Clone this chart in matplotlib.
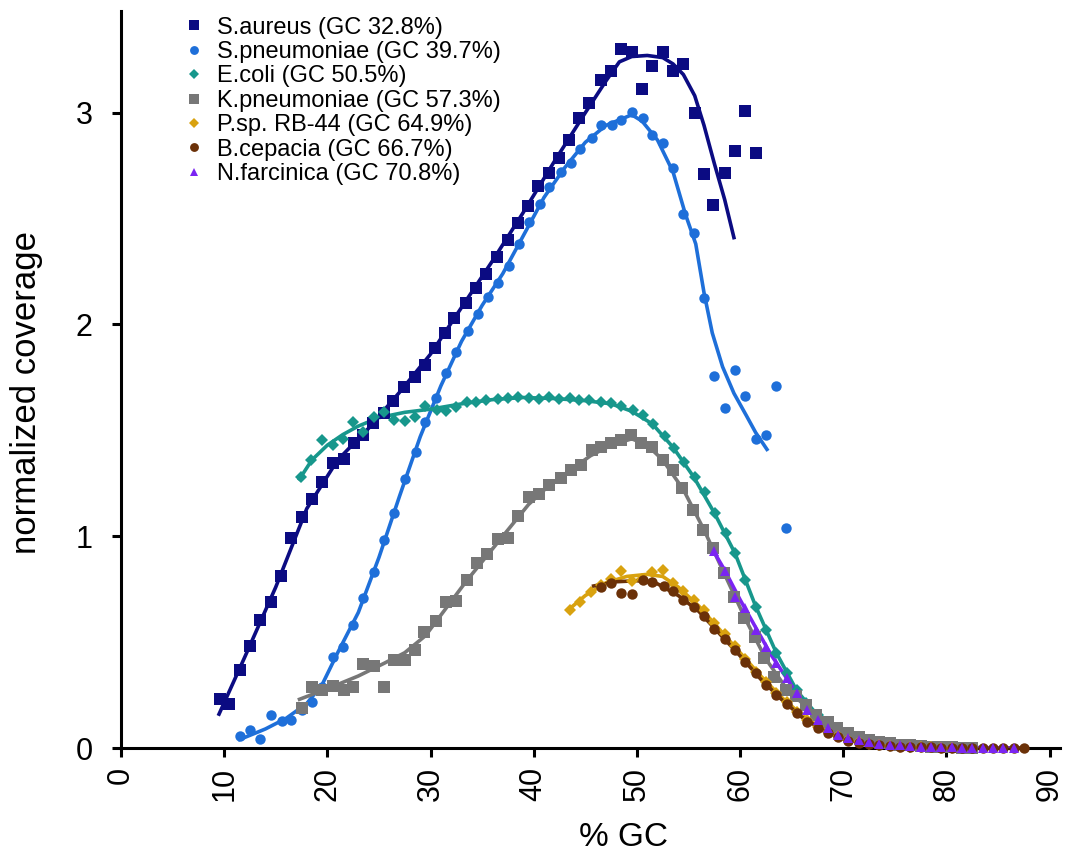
import matplotlib
matplotlib.use("Agg")
import matplotlib.pyplot as plt

plt.rcParams["font.family"] = ["Liberation Sans", "DejaVu Sans"]

# ---- data ----
sa_x = [9.6, 10.5, 11.5, 12.5, 13.5, 14.5, 15.5, 16.5, 17.5, 18.5, 19.5, 20.5, 21.6, 22.6, 23.5,
        24.4, 25.5, 26.4, 27.4, 28.5, 29.5, 30.4, 31.4, 32.3, 33.4, 34.4, 35.4, 36.4, 37.5, 38.5,
        39.4, 40.4, 41.5, 42.4, 43.4, 44.4, 45.4, 46.5, 47.5, 48.5, 49.5, 50.5, 51.5, 52.5, 53.5,
        54.5, 55.6, 56.5, 57.4, 58.5, 59.5, 60.5, 61.5]
sa_y = [0.23, 0.21, 0.37, 0.48, 0.605, 0.69, 0.81, 0.99, 1.09, 1.175, 1.258, 1.345, 1.365, 1.44, 1.48,
        1.535, 1.58, 1.64, 1.705, 1.75, 1.81, 1.89, 1.96, 2.03, 2.10, 2.17, 2.24, 2.32, 2.40, 2.48,
        2.56, 2.655, 2.715, 2.785, 2.87, 2.975, 3.045, 3.155, 3.195, 3.30, 3.285, 3.11, 3.22, 3.285, 3.195,
        3.23, 3.00, 2.71, 2.565, 2.715, 2.82, 3.01, 2.81]
sa_fit_x = [9.5, 12, 15, 18, 21, 24, 27, 30, 33, 36, 39, 42, 45, 47, 48.3, 49.5, 51, 52.5, 53.5,
            54.5, 55.6, 56.5, 57.5, 58.5, 59.4]
sa_fit_y = [0.16, 0.43, 0.76, 1.13, 1.36, 1.51, 1.68, 1.86, 2.08, 2.30, 2.53, 2.77, 3.00, 3.15, 3.24,
            3.265, 3.27, 3.26, 3.23, 3.18, 3.08, 2.94, 2.76, 2.59, 2.41]

sp_x = [11.5, 12.55, 13.5, 14.5, 15.6, 16.5, 17.5, 18.5, 19.5, 20.55, 21.5, 22.5, 23.5, 24.5, 25.5,
        26.5, 27.5, 28.6, 29.5, 30.5, 31.5, 32.5, 33.6, 34.6, 35.6, 36.5, 37.6, 38.6, 39.5, 40.6,
        41.5, 42.6, 43.6, 44.5, 45.6, 46.5, 47.6, 48.5, 49.5, 50.6, 51.5, 52.5, 53.5, 54.5, 55.5,
        56.5, 57.5, 58.5, 59.5, 60.5, 61.5, 62.5, 63.5, 64.4]
sp_y = [0.057, 0.085, 0.041, 0.156, 0.128, 0.132, 0.18, 0.219, 0.29, 0.43, 0.475, 0.58, 0.71, 0.83, 0.98,
        1.11, 1.27, 1.40, 1.54, 1.655, 1.77, 1.87, 1.97, 2.05, 2.13, 2.195, 2.275, 2.38, 2.485, 2.57,
        2.65, 2.72, 2.76, 2.83, 2.88, 2.94, 2.943, 2.966, 3.005, 2.975, 2.895, 2.856, 2.74, 2.52, 2.43,
        2.125, 1.757, 1.605, 1.785, 1.66, 1.458, 1.48, 1.71, 1.04]
sp_fit_x = [11.5, 14, 16, 18, 19.5, 21, 23, 25, 27, 29, 31, 33, 35, 37, 39, 41, 43, 45, 47, 48.5,
            49.5, 50.5, 52, 53.5, 54.7, 55.7, 56.5, 57.3, 58.3, 59.4, 60.6, 61.5, 62.6]
sp_fit_y = [0.04, 0.09, 0.14, 0.21, 0.30, 0.45, 0.64, 0.90, 1.19, 1.47, 1.71, 1.92, 2.09, 2.24, 2.42,
            2.60, 2.74, 2.86, 2.94, 2.97, 2.99, 2.96, 2.87, 2.72, 2.52, 2.38, 2.15, 1.96, 1.80, 1.675,
            1.57, 1.49, 1.41]

ec_x = [17.4, 18.4, 19.5, 20.5, 21.5, 22.5, 23.5, 24.5, 25.5, 26.5, 27.5, 28.5, 29.5, 30.6, 31.5,
        32.5, 33.5, 34.4, 35.4, 36.5, 37.5, 38.5, 39.5, 40.5, 41.5, 42.4, 43.5, 44.4, 45.4, 46.5,
        47.5, 48.5, 49.6, 50.6, 51.6, 52.7, 53.6, 54.6, 55.6, 56.6, 57.6, 58.6, 59.5, 60.5, 61.5,
        62.5, 63.5, 64.5, 65.5, 66.4, 67.5, 68.5, 69.5, 70.5, 71.5, 72.5, 73.5, 74.5, 75.5, 76.5]
ec_y = [1.28, 1.36, 1.455, 1.43, 1.46, 1.54, 1.49, 1.565, 1.585, 1.55, 1.545, 1.565, 1.615, 1.595, 1.59,
        1.61, 1.635, 1.635, 1.645, 1.647, 1.652, 1.657, 1.652, 1.647, 1.657, 1.647, 1.652, 1.645, 1.645, 1.635,
        1.628, 1.615, 1.597, 1.573, 1.53, 1.474, 1.416, 1.352, 1.28, 1.21, 1.108, 1.014, 0.92, 0.794, 0.667,
        0.557, 0.447, 0.353, 0.274, 0.211, 0.156, 0.109, 0.077, 0.055, 0.04, 0.028, 0.02, 0.014, 0.01, 0.007]
ec_fit_x = [17.3, 18.5, 20, 21.5, 23, 25, 27.5, 30, 33, 36, 39, 42, 45, 47.5, 49.5, 51.5, 53.5, 55.5,
            57.5, 59.5, 61.5, 63.5, 65.5, 67.5, 69.5, 71.5, 74, 77]
ec_fit_y = [1.27, 1.36, 1.43, 1.48, 1.52, 1.56, 1.585, 1.60, 1.625, 1.645, 1.655, 1.65, 1.64, 1.625, 1.59,
            1.53, 1.42, 1.28, 1.11, 0.92, 0.67, 0.45, 0.27, 0.155, 0.08, 0.04, 0.015, 0.005]

kp_x = [17.5, 18.55, 19.5, 20.55, 21.6, 22.5, 23.5, 24.5, 25.5, 26.5, 27.5, 28.5, 29.4, 30.5, 31.5,
        32.5, 33.5, 34.5, 35.5, 36.5, 37.5, 38.5, 39.5, 40.5, 41.5, 42.6, 43.6, 44.6, 45.6, 46.5,
        47.5, 48.5, 49.4, 50.4, 51.5, 52.5, 53.5, 54.4, 55.4, 56.4, 57.4, 58.4, 59.4, 60.4, 61.4,
        62.3, 63.3, 64.4, 65.4, 66.4, 67.4, 68.5, 69.4, 70.5, 71.5, 72.5, 73.5, 74.5, 75.5, 76.5,
        77.5, 78.5, 79.5, 80.5, 81.5, 82.5]
kp_y = [0.19, 0.287, 0.274, 0.293, 0.274, 0.29, 0.397, 0.387, 0.29, 0.416, 0.416, 0.463, 0.55, 0.60, 0.69,
        0.696, 0.794, 0.872, 0.916, 0.986, 0.99, 1.096, 1.187, 1.20, 1.242, 1.274, 1.313, 1.337, 1.408, 1.423,
        1.439, 1.455, 1.478, 1.442, 1.423, 1.36, 1.313, 1.227, 1.124, 1.03, 0.943, 0.825, 0.715, 0.612, 0.526,
        0.424, 0.337, 0.274, 0.246, 0.203, 0.156, 0.124, 0.093, 0.069, 0.052, 0.04, 0.03, 0.022, 0.016, 0.012,
        0.009, 0.006, 0.004, 0.003, 0.002, 0.001]
kp_fit_x = [17.3, 20, 23, 25.5, 27.5, 29.5, 31.5, 33.5, 35.5, 37.5, 39.5, 41.5, 43.5, 45.5, 47.5, 49.5,
            51, 52.5, 54.5, 56.5, 58.5, 60.5, 62.5, 64.5, 66.5, 68.5, 70.5, 73, 76, 80, 84]
kp_fit_y = [0.23, 0.28, 0.34, 0.40, 0.45, 0.53, 0.66, 0.79, 0.91, 1.03, 1.15, 1.24, 1.31, 1.38, 1.43, 1.46,
            1.43, 1.36, 1.22, 1.03, 0.82, 0.61, 0.42, 0.28, 0.19, 0.12, 0.07, 0.035, 0.015, 0.005, 0.0]

ps_x = [43.5, 44.5, 45.5, 46.5, 47.5, 48.5, 49.5, 50.5, 51.5, 52.5, 53.5, 54.5, 55.5, 56.5, 57.5,
        58.5, 59.5, 60.5, 61.5, 62.5, 63.5, 64.5, 65.5, 66.5, 67.5, 68.5, 69.5, 70.5, 71.5, 72.5,
        73.5, 74.5, 75.5, 76.5, 77.5, 78.5, 79.5, 80.5]
ps_y = [0.652, 0.69, 0.735, 0.77, 0.80, 0.838, 0.79, 0.80, 0.833, 0.84, 0.78, 0.74, 0.70, 0.65, 0.59,
        0.54, 0.48, 0.42, 0.36, 0.31, 0.26, 0.215, 0.17, 0.13, 0.10, 0.075, 0.055, 0.04, 0.03, 0.02,
        0.015, 0.01, 0.007, 0.005, 0.004, 0.003, 0.002, 0.001]
ps_fit_x = [43.3, 45, 47, 49, 51, 52.5, 54, 56, 58, 60, 62, 64, 66, 68, 70, 72, 75, 80]
ps_fit_y = [0.65, 0.72, 0.78, 0.81, 0.82, 0.81, 0.76, 0.67, 0.56, 0.45, 0.34, 0.24, 0.155, 0.09, 0.05,
            0.025, 0.01, 0.0]

bc_x = [46.5, 47.5, 48.5, 49.5, 50.6, 51.5, 52.6, 53.5, 54.5, 55.5, 56.5, 57.5, 58.5, 59.5, 60.5,
        61.5, 62.5, 63.5, 64.5, 65.5, 66.5, 67.5, 68.5, 69.5, 70.5, 71.5, 72.5, 73.5, 74.5, 75.5,
        76.5, 77.5, 78.5, 79.5, 80.5, 81.5, 82.5, 83.5, 84.5, 85.5, 86.5, 87.5]
bc_y = [0.76, 0.781, 0.734, 0.727, 0.794, 0.786, 0.765, 0.743, 0.699, 0.667, 0.624, 0.561, 0.513, 0.463, 0.408,
        0.353, 0.298, 0.25, 0.208, 0.164, 0.124, 0.093, 0.069, 0.05, 0.034, 0.025, 0.018, 0.013, 0.009, 0.007,
        0.005, 0.004, 0.003, 0.002, 0.002, 0.001, 0.001, 0.001, 0.001, 0.0, 0.0, 0.0]
bc_fit_x = [45.8, 48, 50, 52, 54, 56, 58, 60, 62, 64, 66, 68, 70, 72, 75, 80, 87.5]
bc_fit_y = [0.765, 0.785, 0.79, 0.775, 0.72, 0.645, 0.54, 0.435, 0.325, 0.23, 0.145, 0.085, 0.045, 0.022,
            0.008, 0.002, 0.0]

nf_x = [57.5, 58.5, 59.5, 60.5, 61.5, 62.5, 63.5, 64.5, 65.5, 66.5, 67.5, 68.5, 69.5, 70.5, 71.5,
        72.5, 73.5, 74.5, 75.5, 76.5, 77.5, 78.5, 79.5, 80.5, 81.5, 82.5, 83.5, 84.5, 85.5, 86.5]
nf_y = [0.93, 0.835, 0.715, 0.66, 0.557, 0.479, 0.40, 0.33, 0.258, 0.18, 0.132, 0.093, 0.061, 0.046, 0.036,
        0.028, 0.021, 0.016, 0.012, 0.009, 0.007, 0.005, 0.004, 0.003, 0.002, 0.002, 0.001, 0.001, 0.001, 0.0]
nf_fit_x = [57.3, 58.5, 60, 61.5, 63, 64.5, 66, 67.5, 69, 70.5, 73, 76, 80, 86.5]
nf_fit_y = [0.94, 0.84, 0.70, 0.57, 0.44, 0.33, 0.22, 0.14, 0.08, 0.05, 0.025, 0.01, 0.003, 0.0]

SERIES = [
    ("S.aureus (GC 32.8%)", "#0b0b82", "s", 8.0, sa_x, sa_y, sa_fit_x, sa_fit_y),
    ("S.pneumoniae (GC 39.7%)", "#1e6fd9", "o", 7.5, sp_x, sp_y, sp_fit_x, sp_fit_y),
    ("E.coli (GC 50.5%)", "#17978c", "D", 6.0, ec_x, ec_y, ec_fit_x, ec_fit_y),
    ("K.pneumoniae (GC 57.3%)", "#777777", "s", 8.0, kp_x, kp_y, kp_fit_x, kp_fit_y),
    ("P.sp. RB-44 (GC 64.9%)", "#d9a20f", "D", 6.0, ps_x, ps_y, ps_fit_x, ps_fit_y),
    ("B.cepacia (GC 66.7%)", "#6b3108", "o", 7.5, bc_x, bc_y, bc_fit_x, bc_fit_y),
    ("N.farcinica (GC 70.8%)", "#7a24f2", "^", 7.5, nf_x, nf_y, nf_fit_x, nf_fit_y),
]

fig = plt.figure(figsize=(10.82, 8.63), dpi=100)
ax = fig.add_axes([121 / 1082, 115 / 863, 939 / 1082, 737 / 863])

for label, color, marker, ms, xs, ys, fx, fy in SERIES:
    ax.plot(fx, fy, color=color, linewidth=2.6, zorder=3)
    ax.plot(xs, ys, linestyle="none", marker=marker, markersize=ms, color=color,
            markeredgewidth=0, label=label, zorder=4, clip_on=False)

ax.set_xlim(0, 91)
ax.set_ylim(0, 3.48)
ax.set_xticks(range(0, 91, 10))
ax.set_yticks([0, 1, 2, 3])
for side in ["top", "right"]:
    ax.spines[side].set_visible(False)
for side in ["left", "bottom"]:
    ax.spines[side].set_linewidth(2.2)
ax.tick_params(direction="out", length=6.5, width=2.2, labelsize=22, colors="black")
ax.tick_params(axis="x", labelrotation=90, pad=7)
ax.tick_params(axis="y", pad=14)

ax.set_ylabel("normalized coverage", fontsize=25)
ax.yaxis.set_label_coords(-0.083, 0.482)
ax.set_xlabel("% GC", fontsize=24)
ax.xaxis.set_label_coords(0.535, -0.100)

ax.legend(loc="upper left", bbox_to_anchor=(0.058, 1.005), frameon=False, fontsize=17,
          markerscale=0.85, handlelength=0.8, handletextpad=0.55, labelspacing=0.1,
          borderaxespad=0)

fig.savefig("out.png", dpi=100)
